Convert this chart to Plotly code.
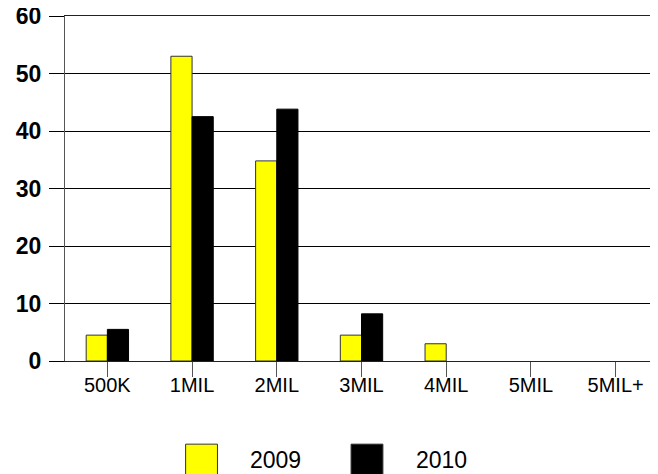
import plotly.graph_objects as go

categories = ["500K", "1MIL", "2MIL", "3MIL", "4MIL", "5MIL", "5MIL+"]
values_2009 = [4.5, 53, 34.8, 4.5, 3.0, 0, 0]
values_2010 = [5.5, 42.5, 43.8, 8.2, 0, 0, 0]
series_names = ["2009", "2010"]
series_colors = ["#ffff00", "#000000"]

FONT = "Liberation Sans, Arial, sans-serif"

fig = go.Figure()
fig.add_trace(go.Bar(x=categories, y=values_2009, name=series_names[0],
                     marker=dict(color=series_colors[0],
                                 line=dict(color="#333333", width=[1 if v > 0 else 0 for v in values_2009]))))
fig.add_trace(go.Bar(x=categories, y=values_2010, name=series_names[1],
                     marker=dict(color=series_colors[1],
                                 line=dict(color="#000000", width=[1 if v > 0 else 0 for v in values_2010]))))

# hand-made legend with big squares like the original
legend_boxes = [(0.2034, 0.2571), (0.4824, 0.5361)]
legend_text_x = [0.309, 0.588]
for (x0, x1), col, tx, name in zip(legend_boxes, series_colors, legend_text_x, series_names):
    fig.add_shape(type="rect", xref="paper", yref="paper", x0=x0, x1=x1, y0=-0.33, y1=-0.241,
                  fillcolor=col, line=dict(color="#333333", width=1))
    fig.add_annotation(xref="paper", yref="paper", x=tx, y=-0.287, text=name, showarrow=False,
                       xanchor="left", yanchor="middle", font=dict(family=FONT, size=23, color="black"))

# page body has an 8px margin, so the figure is a bit smaller than the window
fig.update_layout(
    width=650, height=466,
    margin=dict(l=57, r=0, t=8, b=113),
    paper_bgcolor="white", plot_bgcolor="white",
    barmode="group", bargap=0.5, bargroupgap=0,
    showlegend=False,
    font=dict(family=FONT, color="black"),
)
# mirror=True gives the line at the top (the 60 gridline)
fig.update_xaxes(
    automargin=False,
    showline=True, mirror=True, linecolor="#222222", linewidth=1,
    ticks="outside", ticklen=15, tickcolor="#555555",
    tickfont=dict(family=FONT, size=20, color="black"),
    ticklabelstandoff=-9,
    showgrid=False,
)
fig.update_yaxes(
    automargin=False,
    range=[0, 60], dtick=10,
    showline=True, linecolor="#555555", linewidth=1,
    ticks="outside", ticklen=15, tickcolor="#000000",
    showgrid=True, gridcolor="#000000", gridwidth=1,
    zeroline=False,
    tickfont=dict(family=FONT, size=23, color="black", weight="bold"),
    ticklabelstandoff=3,
    ticklabeloverflow="allow",
)

fig.write_html("out.html")
